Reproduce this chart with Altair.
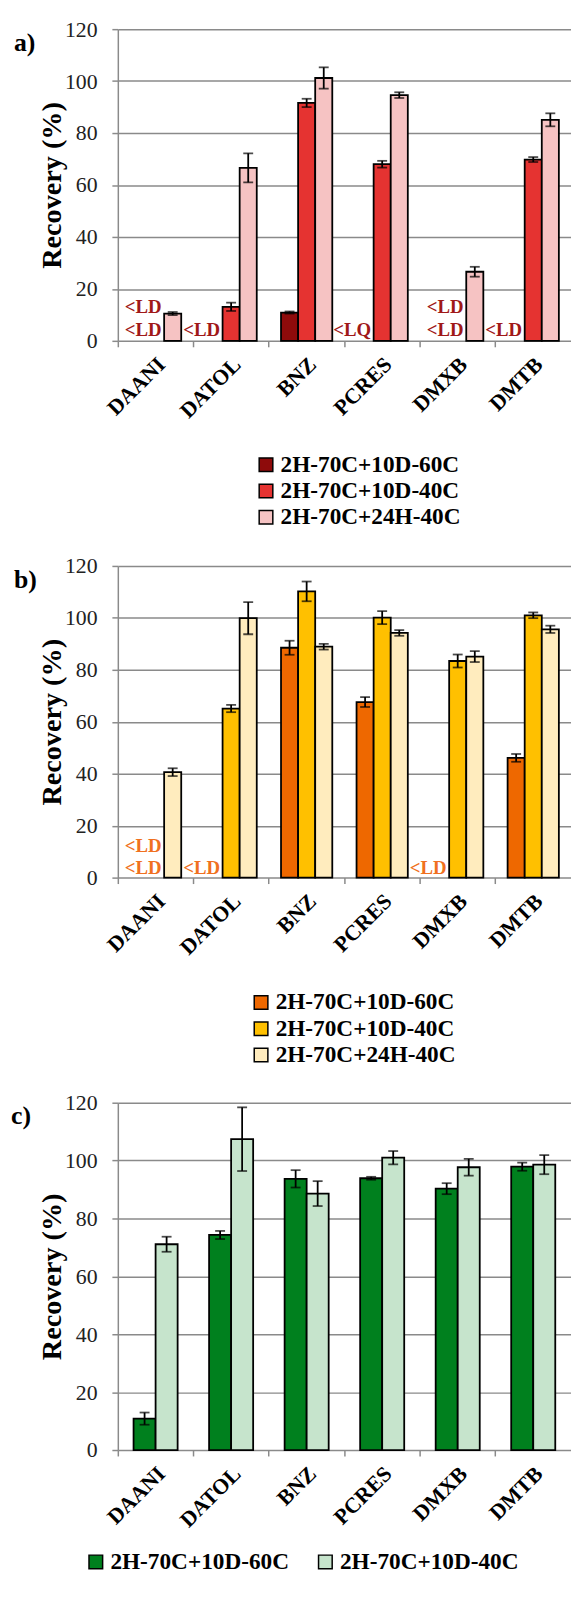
import altair as alt
import pandas as pd

categories = ["DAANI", "DATOL", "BNZ", "PCRES", "DMXB", "DMTB"]

# ---- panel a ----
series_a = ["2H-70C+10D-60C", "2H-70C+10D-40C", "2H-70C+24H-40C"]
a_val_60 = [None, None, 10.9, None, None, None]
a_err_60 = [None, None, 0.4, None, None, None]
a_val_40 = [None, 13.1, 91.6, 68.0, None, 69.8]
a_err_40 = [None, 1.6, 1.6, 1.3, None, 0.95]
a_val_24 = [10.5, 66.6, 101.2, 94.6, 26.6, 85.1]
a_err_24 = [0.6, 5.6, 4.1, 1.1, 1.9, 2.5]
a_colors = ["#8E0B0B", "#E53331", "#F6C3C3"]
a_note_cat = ["DAANI", "DAANI", "DATOL", "PCRES", "DMXB", "DMXB", "DMTB"]
a_note_series = [series_a[1], series_a[1], series_a[0], series_a[0], series_a[1], series_a[1], series_a[0]]
a_note_row = ["upper", "lower", "lower", "lower", "upper", "lower", "lower"]
a_note_text = ["<LD", "<LD", "<LD", "<LQ", "<LD", "<LD", "<LD"]

# ---- panel b ----
series_b = ["2H-70C+10D-60C", "2H-70C+10D-40C", "2H-70C+24H-40C"]
b_val_60 = [None, None, 88.5, 67.6, None, 46.1]
b_err_60 = [None, None, 2.7, 1.9, None, 1.5]
b_val_40 = [None, 65.1, 110.2, 100.1, 83.4, 101.0]
b_err_40 = [None, 1.4, 3.8, 2.5, 2.5, 1.1]
b_val_24 = [40.6, 99.9, 88.9, 94.2, 85.1, 95.6]
b_err_24 = [1.5, 6.2, 1.1, 1.1, 2.1, 1.4]
b_colors = ["#EE6800", "#FFC000", "#FFECBE"]
b_note_cat = ["DAANI", "DAANI", "DATOL", "DMXB"]
b_note_series = [series_b[1], series_b[1], series_b[0], series_b[0]]
b_note_row = ["upper", "lower", "lower", "lower"]
b_note_text = ["<LD", "<LD", "<LD", "<LD"]

# ---- panel c ----
series_c = ["2H-70C+10D-60C", "2H-70C+10D-40C"]
c_val_60 = [10.85, 74.3, 93.7, 93.9, 90.3, 97.9]
c_err_60 = [2.1, 1.4, 3.0, 0.5, 1.9, 1.4]
c_val_40 = [71.1, 107.4, 88.6, 101.0, 97.7, 98.6]
c_err_40 = [2.6, 11.0, 4.3, 2.3, 2.9, 3.3]
c_colors = ["#00801E", "#C6E4CC"]

y_ticks = [0, 20, 40, 60, 80, 100, 120]
Y_TITLE = "Recovery (%)"
FONT = "Liberation Serif"
GRAY = "#8a8a8a"
W = 458


def long_table(series, vals, errs):
    rows = []
    for s, v_list, e_list in zip(series, vals, errs):
        for cat, v, e in zip(categories, v_list, e_list):
            if v is None:
                continue
            rows.append({"cat": cat, "series": s, "value": v, "err": e})
    return pd.DataFrame(rows)


def panel(series, vals, errs, colors, height, xoff_pad, tag, tag_x,
          legend_x, legend_y, legend_dir, notes=None, note_color=None, note_dy=(-11, -33)):
    df = long_table(series, vals, errs)
    base = alt.Chart(df).transform_calculate(
        lo="datum.value - datum.err", hi="datum.value + datum.err"
    )
    x_scale = alt.Scale(domain=categories, paddingInner=0, paddingOuter=0)
    xo_scale = alt.Scale(domain=series, paddingInner=0, paddingOuter=xoff_pad)
    y_scale = alt.Scale(domain=[0, 120], nice=False, zero=True)

    x_axis = alt.Axis(
        title=None, domain=False, grid=False, bandPosition=0, tickExtra=False,
        labelAngle=-45, labelAlign="right", labelBaseline="middle", labelOffset=6,
    )
    y_axis = alt.Axis(title=Y_TITLE, values=y_ticks, grid=True)
    legend = alt.Legend(
        title=None, orient="none", legendX=legend_x, legendY=legend_y, direction=legend_dir,
        columns=len(series) if legend_dir == "horizontal" else 1,
    )

    x_other = alt.X("cat:N", sort=categories, title=None)
    xo_other = alt.XOffset("series:N", sort=series)

    bars = base.mark_bar(stroke="black", strokeWidth=1.8).encode(
        x=alt.X("cat:N", scale=x_scale, axis=x_axis, sort=categories),
        xOffset=alt.XOffset("series:N", scale=xo_scale, sort=series),
        y=alt.Y("value:Q", scale=y_scale, axis=y_axis),
        color=alt.Color("series:N", scale=alt.Scale(domain=series, range=colors), legend=legend, sort=series),
    )
    rules = base.mark_rule(color="black", strokeWidth=1.8).encode(
        x=x_other, xOffset=xo_other,
        y=alt.Y("lo:Q", title=Y_TITLE),
        y2="hi:Q",
    )
    cap_lo = base.mark_tick(color="black", thickness=1.8, size=10).encode(
        x=x_other, xOffset=xo_other, y=alt.Y("lo:Q", title=Y_TITLE),
    )
    cap_hi = base.mark_tick(color="black", thickness=1.8, size=10).encode(
        x=x_other, xOffset=xo_other, y=alt.Y("hi:Q", title=Y_TITLE),
    )
    tag_df = pd.DataFrame({"tag": [tag]})
    tag_text = alt.Chart(tag_df).mark_text(
        font=FONT, fontSize=26, fontWeight="bold", color="black", align="left", baseline="middle"
    ).encode(x=alt.value(tag_x), y=alt.value(14), text="tag:N")

    layers = [bars, rules, cap_lo, cap_hi]
    if notes is not None:
        ncat, nser, nrow, ntext = notes
        ndf = pd.DataFrame({"cat": ncat, "series": nser, "row": nrow, "text": ntext})
        for row, dy in zip(["lower", "upper"], note_dy):
            t = alt.Chart(ndf).transform_filter(alt.datum.row == row).mark_text(
                font=FONT, fontSize=19, fontWeight="bold", color=note_color,
                align="right", baseline="middle", dx=6, dy=dy,
            ).encode(
                x=x_other, xOffset=xo_other,
                y=alt.datum(0, title=Y_TITLE),
                text="text:N",
            )
            layers.append(t)
    layers.append(tag_text)
    return alt.layer(*layers).properties(width=W, height=height)


pa = panel(series_a, [a_val_60, a_val_40, a_val_24], [a_err_60, a_err_40, a_err_24], a_colors,
           315, 0.71, "a)", -105, 138, 428.5, "vertical",
           notes=(a_note_cat, a_note_series, a_note_row, a_note_text), note_color="#A01818",
           note_dy=(-11, -34))
pb = panel(series_b, [b_val_60, b_val_40, b_val_24], [b_err_60, b_err_40, b_err_24], b_colors,
           315, 0.71, "b)", -105, 133, 429.5, "vertical",
           notes=(b_note_cat, b_note_series, b_note_row, b_note_text), note_color="#F07020",
           note_dy=(-10, -32))
pc = panel(series_c, [c_val_60, c_val_40], [c_err_60, c_err_40], c_colors,
           351, 0.714, "c)", -108, -34, 452, "horizontal")

chart = alt.vconcat(pa, pb, pc, spacing=227.5, bounds="flush").resolve_scale(
    color="independent", x="independent", y="independent", xOffset="independent"
).resolve_legend(color="independent").properties(
    padding={"left": 3, "top": 2, "right": 0, "bottom": 0}
).configure_view(stroke=None).configure_axisX(
    ticks=True, tickSize=6, tickColor=GRAY, tickWidth=1.5,
    labelFont=FONT, labelFontSize=22, labelFontWeight="bold", labelColor="black",
    labelPadding=14,
).configure_axisY(
    gridColor=GRAY, gridWidth=1.5,
    domainColor=GRAY, domainWidth=1.5, tickColor=GRAY, tickSize=6, tickWidth=1.5,
    labelFont=FONT, labelFontSize=22, labelColor="#222222", labelPadding=15,
    titleFont=FONT, titleFontSize=28.5, titleFontWeight="bold", titleColor="black",
    titlePadding=-2,
).configure_legend(
    labelFont=FONT, labelFontSize=23.5, labelFontWeight="bold", labelColor="black",
    symbolType="square", symbolSize=190, symbolStrokeColor="black", symbolStrokeWidth=1.5,
    labelOffset=3, rowPadding=1.5, columnPadding=25, padding=0, labelLimit=400,
)

chart.save("out.html", embed_options={"renderer": "svg", "actions": False})
